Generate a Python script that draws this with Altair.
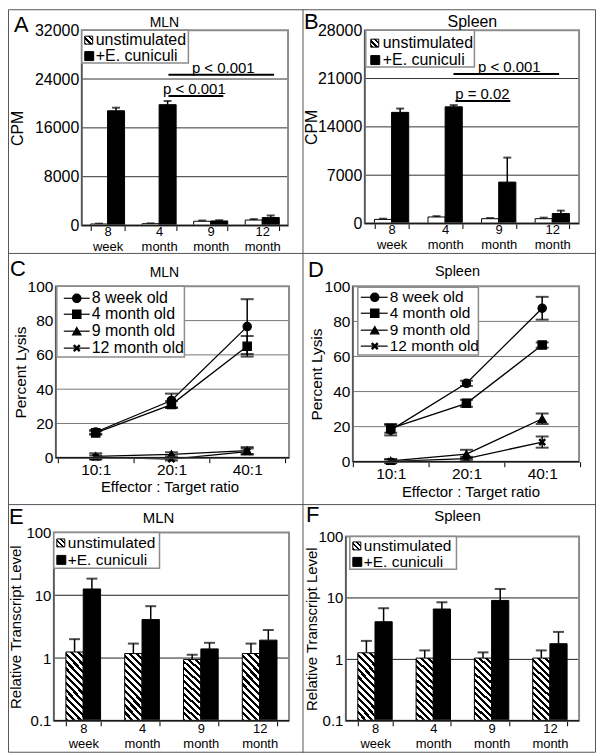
import altair as alt
import pandas as pd

FONT = "Liberation Sans"
VW, VH = 590, 746

# ---------------- data ----------------
ages = ["8 week", "4 month", "9 month", "12 month"]
series = ["unstimulated", "+E. cuniculi"]
ratios = ["10:1", "20:1", "40:1"]
groups = ["8 week old", "4 month old", "9 month old", "12 month old"]
letters = ["A", "B", "C", "D", "E", "F"]
tissues = ["MLN", "Spleen", "MLN", "Spleen", "MLN", "Spleen"]
cpm_title = "CPM"
lysis_title = "Percent Lysis"
ratio_title = "Effector : Target ratio"
transcript_title = "Relative Transcript Level"

a_unstim = [250, 300, 700, 900]
a_unstim_err = [60, 60, 120, 150]
a_stim = [18800, 19800, 750, 1300]
a_stim_err = [500, 600, 120, 350]
a_ticks = [0, 8000, 16000, 24000, 32000]
a_sig_text = ["p < 0.001", "p < 0.001"]
a_sig_y = [24700, 21200]

b_unstim = [600, 950, 700, 700]
b_unstim_err = [100, 120, 100, 150]
b_stim = [16100, 16900, 6000, 1450]
b_stim_err = [550, 250, 3550, 420]
b_ticks = [0, 7000, 14000, 21000, 28000]
b_sig_text = ["p < 0.001", "p = 0.02"]
b_sig_y = [21650, 17750]

c_vals = [[15.0, 33.4, 76.5], [14.5, 31.0, 65.0], [0.8, 2.0, 4.2], [0.3, -0.8, 3.6]]
c_errs = [[1.2, 4.0, 16.0], [1.0, 2.0, 6.0], [1.8, 1.2, 2.0], [1.0, 0.8, 1.8]]
d_vals = [[18.0, 44.7, 87.5], [19.0, 33.3, 66.5], [0.5, 4.3, 24.5], [0.2, 1.8, 11.2]]
d_errs = [[3.0, 1.5, 6.5], [2.5, 2.0, 1.5], [1.0, 2.5, 3.0], [1.0, 1.0, 3.2]]
lysis_ticks = [0, 20, 40, 60, 80, 100]

e_unstim = [1.25, 1.18, 0.95, 1.18]
e_unstim_err = [0.75, 0.52, 0.18, 0.52]
e_stim = [12.6, 4.1, 1.4, 1.93]
e_stim_err = [5.8, 2.6, 0.35, 0.87]
f_unstim = [1.28, 1.05, 1.05, 1.05]
f_unstim_err = [0.72, 0.35, 0.25, 0.35]
f_stim = [4.1, 6.6, 9.1, 1.8]
f_stim_err = [2.7, 1.9, 4.9, 1.0]
log_ticks = [0.1, 1, 10, 100]

shapes = ["circle", "square", "triangle-up", "M-1,-1L1,1M-1,1L1,-1"]

# ---------------- helpers ----------------
one = pd.DataFrame({"k": [0]})
FRAME = "#8c8c8c"


def hatch_fill(n, frac, x2, y2):
    stops = []
    for i in range(n):
        a, b, c = i / n, (i + frac) / n, (i + 1) / n
        stops += [
            alt.GradientStop(offset=a, color="black"),
            alt.GradientStop(offset=b, color="black"),
            alt.GradientStop(offset=b, color="white"),
            alt.GradientStop(offset=c, color="white"),
        ]
    return alt.LinearGradient(gradient="linear", stops=stops, x1=0, y1=1, x2=x2, y2=y2)


BAR_HATCH = hatch_fill(12, 0.45, 0.313, -0.182)
ICON_HATCH = hatch_fill(3, 0.45, 1, 0)


def vtext(s, x, y, size, align="center", baseline="alphabetic"):
    return alt.Chart(one).mark_text(
        font=FONT, fontSize=size, align=align, baseline=baseline, color="black"
    ).encode(x=alt.value(x), y=alt.value(y), text=alt.value(s))


def vrect(x1, x2, y1, y2, stroke=None, sw=1.0, fill=None):
    kw = {}
    if fill is None:
        kw["fill"] = "white"
        kw["fillOpacity"] = 0
    else:
        kw["fill"] = fill
    if stroke is not None:
        kw["stroke"] = stroke
        kw["strokeWidth"] = sw
    return alt.Chart(one).mark_rect(**kw).encode(
        x=alt.value(x1), x2=alt.value(x2), y=alt.value(y1), y2=alt.value(y2)
    )


def vrule(x1, x2, y1, y2, color="black", sw=1.0):
    return alt.Chart(one).mark_rule(color=color, strokeWidth=sw).encode(
        x=alt.value(x1), x2=alt.value(x2), y=alt.value(y1), y2=alt.value(y2)
    )


def y_axis(L, T, B, values, fmt, title, tcx, lsize, tsize=16):
    return alt.Axis(
        orient="left", offset=-L, values=values, format=fmt, ticks=False,
        domain=False, grid=False, labelFont=FONT, labelFontSize=lsize,
        labelColor="black", labelPadding=3, title=title, titleFont=FONT,
        titleFontSize=tsize, titleFontWeight="normal", titleColor="black",
        titleX=tcx - L, titleY=(T + B) / 2, titleBaseline="middle", titleAngle=270,
    )


def frame_layers(L, R, T, B):
    return [
        vrect(L, R, T, B, stroke=FRAME, sw=2),
        vrule(L, L, T, B, color="#555555", sw=1.5),
        vrule(L, R, B, B, color="#1a1a1a", sw=1.5),
    ]


def bar_legend(box, rows, ix, tx, size):
    x1, x2, y1, y2 = box
    return [
        vrect(x1, x2, y1, y2, stroke=FRAME, sw=1.5, fill="white"),
        vrect(ix, ix + 8, rows[0] - 4, rows[0] + 4, stroke="black", sw=1, fill=ICON_HATCH),
        vtext(series[0], tx, rows[0], size, align="left", baseline="middle"),
        vrect(ix, ix + 9, rows[1] - 4.5, rows[1] + 4.5, stroke="black", sw=1, fill="black"),
        vtext(series[1], tx, rows[1], size, align="left", baseline="middle"),
    ]


def bar_panel(g, unstim, unstim_err, stim, stim_err, ydom, yticks, fmt, log,
              ytitle, tcx, ytsize, pad, cap, ylsize, xlsize, xlh, xlpad, uns_fill,
              grid_color, legend, sigs, letter, title):
    L, R, T, B = g
    n = len(ages)
    df = pd.DataFrame({
        "age": ages * 2,
        "series": [series[0]] * n + [series[1]] * n,
        "value": unstim + stim,
        "top": [v + e for v, e in zip(unstim + stim, unstim_err + stim_err)],
    })
    xs = alt.Scale(domain=ages, range=[L, R], paddingInner=pad, paddingOuter=pad / 2)
    xax = alt.Axis(
        orient="bottom", offset=B - VH, tickBand="extent", ticks=True, tickSize=5,
        tickColor="black", domain=False, grid=False, labelAngle=0,
        labelExpr="split(datum.label, ' ')", labelFont=FONT, labelFontSize=xlsize,
        labelLineHeight=xlh, labelPadding=xlpad, labelColor="black", title=None,
    )
    X = alt.X("age:N", sort=ages, scale=xs, axis=xax)
    XO = alt.XOffset("series:N", sort=series,
                     scale=alt.Scale(domain=series, paddingInner=0, paddingOuter=0))
    sc = dict(domain=ydom, range=[B, T], nice=False)
    if log:
        sc["type"] = "log"
    ys = alt.Scale(**sc)
    yax = y_axis(L, T, B, yticks, fmt, ytitle, tcx, ylsize, ytsize)
    Y = alt.Y("value:Q", scale=ys, axis=yax)

    layers = []
    layers.append(
        alt.Chart(pd.DataFrame({"v": yticks[1:-1]})).mark_rule(color=grid_color, strokeWidth=1)
        .encode(y=alt.Y("v:Q", scale=ys, axis=yax), x=alt.value(L), x2=alt.value(R))
    )
    layers.append(
        alt.Chart(df).mark_rule(color="black", strokeWidth=1.5)
        .encode(x=X, xOffset=XO, y=Y, y2=alt.Y2("top"))
    )
    layers.append(
        alt.Chart(df).mark_tick(color="black", orient="horizontal", size=cap, thickness=2)
        .encode(x=X, xOffset=XO, y=alt.Y("top:Q", scale=ys, axis=yax))
    )
    layers.append(
        alt.Chart(df[df.series == series[0]]).mark_bar(fill=uns_fill, stroke="black", strokeWidth=1)
        .encode(x=X, xOffset=XO, y=Y, y2=alt.datum(ydom[0]))
    )
    layers.append(
        alt.Chart(df[df.series == series[1]]).mark_bar(fill="black", stroke="black", strokeWidth=1)
        .encode(x=X, xOffset=XO, y=Y, y2=alt.datum(ydom[0]))
    )
    layers += frame_layers(L, R, T, B)
    layers += bar_legend(*legend)
    for (txt, yv, x1, x2, cx) in sigs:
        sdf = pd.DataFrame({"y": [yv], "t": [txt]})
        layers.append(
            alt.Chart(sdf).mark_rule(color="black", strokeWidth=2)
            .encode(y=alt.Y("y:Q", scale=ys, axis=yax), x=alt.value(x1), x2=alt.value(x2))
        )
        layers.append(
            alt.Chart(sdf).mark_text(font=FONT, fontSize=15, align="center", baseline="alphabetic", dy=-2, color="black")
            .encode(y=alt.Y("y:Q", scale=ys, axis=yax), x=alt.value(cx), text="t:N")
        )
    layers.append(vtext(letter[0], letter[1], letter[2], 22, align="left"))
    layers.append(vtext(title[0], title[1], title[2], title[3]))
    return alt.layer(*layers)


def line_panel(g, xr, vals, errs, tcx, xt, legend, letter, title):
    L, R, T, B = g
    rows = []
    for gi, grp in enumerate(groups):
        for ri, rat in enumerate(ratios):
            v, e = vals[gi][ri], errs[gi][ri]
            rows.append({"group": grp, "ratio": rat, "value": v, "lo": v - e, "hi": v + e})
    df = pd.DataFrame(rows)
    caps = pd.concat([
        df[["group", "ratio", "lo"]].rename(columns={"lo": "cap"}),
        df[["group", "ratio", "hi"]].rename(columns={"hi": "cap"}),
    ])
    xs = alt.Scale(type="band", domain=ratios, range=xr, paddingInner=0, paddingOuter=0)
    xax = alt.Axis(
        orient="bottom", offset=B - VH, tickBand="extent", ticks=True, tickSize=5,
        tickColor="black", domain=False, grid=False, labelAngle=0, labelFont=FONT,
        labelFontSize=15.5, labelPadding=0, labelColor="black", title=ratio_title,
        titleFont=FONT, titleFontSize=15, titleFontWeight="normal", titleColor="black",
        titleX=xt[0], titleY=xt[1], titleBaseline="alphabetic", titleAlign="center",
    )
    X = alt.X("ratio:N", sort=ratios, scale=xs, axis=xax)
    ys = alt.Scale(domain=[0, 100], range=[B, T], nice=False, zero=False)
    yax = y_axis(L, T, B, lysis_ticks, "d", lysis_title, tcx, 15.5, 15.5)
    Yv = alt.Y("value:Q", scale=ys, axis=yax)
    shp = alt.Shape("group:N", scale=alt.Scale(domain=groups, range=shapes), legend=None)
    layers = []
    layers.append(
        alt.Chart(pd.DataFrame({"v": lysis_ticks[1:-1]})).mark_rule(color="#777777", strokeWidth=1)
        .encode(y=alt.Y("v:Q", scale=ys, axis=yax), x=alt.value(L), x2=alt.value(R))
    )
    layers.append(
        alt.Chart(df).mark_rule(color="black", strokeWidth=1.5)
        .encode(x=X, y=alt.Y("lo:Q", scale=ys, axis=yax), y2="hi:Q")
    )
    layers.append(
        alt.Chart(caps).mark_tick(color="black", orient="horizontal", size=13, thickness=2)
        .encode(x=X, y=alt.Y("cap:Q", scale=ys, axis=yax))
    )
    layers.append(
        alt.Chart(df).mark_line(color="black", strokeWidth=1.3)
        .encode(x=X, y=Yv, detail="group:N")
    )
    layers.append(
        alt.Chart(df[df.group != groups[3]]).mark_point(filled=True, fill="black", stroke="black", strokeWidth=1.2, size=70, opacity=1)
        .encode(x=X, y=Yv, shape=shp)
    )
    layers.append(
        alt.Chart(df[df.group == groups[3]]).mark_point(filled=True, fill="black", stroke="black", strokeWidth=2.4, size=36, opacity=1)
        .encode(x=X, y=Yv, shape=shp)
    )
    layers += frame_layers(L, R, T, B)
    (bx1, bx2, by1, by2), lrows, (lx1, lx2, mx), tx, lsize = legend
    layers.append(vrect(bx1, bx2, by1, by2, stroke=FRAME, sw=1.5, fill="white"))
    for i, grp in enumerate(groups):
        layers.append(vrule(lx1, lx2, lrows[i], lrows[i], color="black", sw=1.2))
        big = i < 3
        layers.append(
            alt.Chart(one).mark_point(filled=True, fill="black", stroke="black",
                                      strokeWidth=1.2 if big else 2.4, size=70 if big else 36, opacity=1)
            .encode(x=alt.value(mx), y=alt.value(lrows[i]), shape=alt.value(shapes[i]))
        )
        layers.append(vtext(grp, tx, lrows[i], lsize, align="left", baseline="middle"))
    layers.append(vtext(letter[0], letter[1], letter[2], 22, align="left"))
    layers.append(vtext(title[0], title[1], title[2], title[3]))
    return alt.layer(*layers)


# ---------------- panels ----------------
pA = bar_panel(
    (74, 281, 21, 217), a_unstim, a_unstim_err, a_stim, a_stim_err, [0, 32000], a_ticks, "d", False,
    cpm_title, 10, 16, 0.34, 8, 16, 13, 14.6, -4.5, "white", "#333333",
    ((74, 181, 21, 54), (31, 47), 77, 88, 16),
    [(a_sig_text[0], a_sig_y[0], 161, 267, 216), (a_sig_text[1], a_sig_y[1], 161, 216, 187)],
    (letters[0], 6, 23), (tissues[0], 157, 18, 14),
)
pB = bar_panel(
    (358, 573, 21, 215), b_unstim, b_unstim_err, b_stim, b_stim_err, [0, 28000], b_ticks, "d", False,
    cpm_title, 305, 16, 0.36, 8, 16, 13, 14.6, -4.5, "white", "#333333",
    ((359, 468, 21, 58), (34, 51), 364, 376, 16),
    [(b_sig_text[0], b_sig_y[0], 447, 553, 503), (b_sig_text[1], b_sig_y[1], 449, 504, 476)],
    (letters[1], 297, 20), (tissues[1], 466, 18, 16),
)
pC = line_panel(
    (48, 282, 278, 450), [50, 278], c_vals, c_errs, 13, (162, 34),
    ((49, 177, 278, 349), (290, 306, 323, 340), (56, 82, 69), 84, 16),
    (letters[2], 2, 268), (tissues[2], 157, 269, 14),
)
pD = line_panel(
    (346, 573, 278, 454), [346, 574], d_vals, d_errs, 310, (464, 35),
    ((351, 472, 279, 347), (289, 305, 322, 338), (354, 381, 368), 383, 15.5),
    (letters[3], 301, 269), (tissues[3], 451, 268, 14.5),
)
pE = bar_panel(
    (46, 282, 525, 714), e_unstim, e_unstim_err, e_stim, e_stim_err, [0.1, 100], log_ticks, "~g", True,
    transcript_title, 7.5, 15, 0.41, 11, 15, 13, 14.6, -3, BAR_HATCH, "#222222",
    ((46, 152, 525, 561), (535.5, 552.5), 49, 60, 15.5),
    [], (letters[4], 1, 516), (tissues[4], 151, 515, 15),
)
pF = bar_panel(
    (339, 573, 529, 714), f_unstim, f_unstim_err, f_stim, f_stim_err, [0.1, 100], log_ticks, "~g", True,
    transcript_title, 305, 15, 0.41, 11, 15, 13, 14.6, -3, BAR_HATCH, "#222222",
    ((343, 450, 529, 562), (538.5, 554.5), 346, 357, 15.5),
    [], (letters[5], 299, 514), (tissues[5], 451, 513, 15),
)

decor = [
    vrect(0.5, VW - 0.5, 0.5, VH - 0.5, stroke="#555555", sw=1),
    vrule(296, 296, 0, VH, color="#555555", sw=1),
    vrule(0, VW, 245, 245, color="#555555", sw=1),
    vrule(0, VW, 497, 497, color="#555555", sw=1),
]

chart = (
    alt.layer(*decor, pA, pB, pC, pD, pE, pF)
    .resolve_scale(x="independent", y="independent", xOffset="independent", shape="independent")
    .resolve_axis(x="independent", y="independent")
    .properties(width=VW, height=VH, padding=0, autosize=alt.AutoSizeParams(type="none"))
    .configure_view(stroke=None)
)

chart.save("out.html", embed_options={"renderer": "svg", "actions": False})
